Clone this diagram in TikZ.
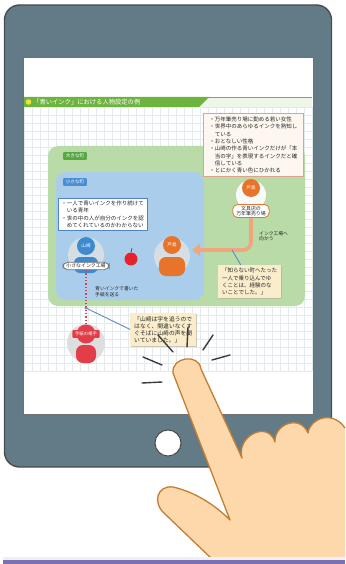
\documentclass[tikz,border=0pt]{standalone}
\usepackage{fontspec}
\newfontfamily\jp{Noto Sans CJK JP}
\usetikzlibrary{arrows.meta,calc,shadows}
\definecolor{bezel}{HTML}{637B87}
\definecolor{bezeledge}{HTML}{4A4D50}
\definecolor{gridc}{HTML}{E4EAEE}
\definecolor{titlegreen}{HTML}{6DB33F}
\definecolor{titlelight}{HTML}{EEF6E8}
\definecolor{townbig}{HTML}{B9DBA7}
\definecolor{townsmall}{HTML}{A9CDEA}
\definecolor{tagbig}{HTML}{58A745}
\definecolor{tagsmall}{HTML}{4B8ED0}
\definecolor{noteblue}{HTML}{4F84C4}
\definecolor{haloc}{HTML}{D6DEE5}
\definecolor{yamablue}{HTML}{3E8ACF}
\definecolor{toorange}{HTML}{E8742B}
\definecolor{arroworange}{HTML}{F2A47C}
\definecolor{profilefill}{HTML}{FDF7EF}
\definecolor{profileedge}{HTML}{DDA38C}
\definecolor{quotefill}{HTML}{FAEDCC}
\definecolor{quoteshadow}{HTML}{B9B2A2}
\definecolor{personred}{HTML}{E23E4A}
\definecolor{applered}{HTML}{E5232B}
\definecolor{pointerblue}{HTML}{5C8CC2}
\definecolor{tapline}{HTML}{3C3C3C}
\definecolor{skin}{HTML}{FCD8AB}
\definecolor{skinedge}{HTML}{C47E33}
\definecolor{barpurple}{HTML}{7B70B4}
\definecolor{dotyellow}{HTML}{F2E236}
\begin{document}
\begin{tikzpicture}[x=1pt,y=-1pt,
  txt/.style={font=\jp\fontsize{5.5}{7.3}\selectfont, align=left, text=black!85},
  tag/.style={font=\jp\fontsize{4.6}{5}\selectfont, text=white, inner xsep=2.6pt, inner ysep=1.7pt, rounded corners=0.8pt},
  pill/.style={draw, fill=white, rounded corners=5pt, font=\jp\fontsize{4.9}{5.6}\selectfont, inner xsep=3.5pt, inner ysep=1.5pt, line width=0.8pt, align=center, text=black!85},
  head/.style={circle, minimum size=18pt, inner sep=0pt, text=white, font=\jp\fontsize{4.6}{5}\selectfont},
  halo/.style={circle, fill=haloc, minimum size=36pt, inner sep=0pt},
  quote/.style={txt, fill=quotefill, inner xsep=4pt, inner ysep=3pt, anchor=north west,
    drop shadow={shadow xshift=1.2pt, shadow yshift=-1.2pt, fill=quoteshadow, opacity=0.7}},
  pointer/.style={pointerblue, line width=0.9pt},
  tap/.style={tapline, line width=1.4pt, line cap=round}]
\useasboundingbox (0,0) rectangle (345,564);

% tablet body, screen and home button
\draw[bezeledge, fill=bezel, line width=1.4pt, rounded corners=15pt] (4.5,5) rectangle (331.5,467);
\draw[bezeledge!80, fill=white, line width=0.6pt] (23,57) rectangle (313,414);
\node[circle, draw=bezeledge, fill=white, line width=1pt, minimum size=26pt, inner sep=0pt] (home) at (168,443) {};

% squared paper
\foreach \x in {24,32,...,312} \draw[gridc, line width=0.4pt] (\x,107) -- (\x,371);
\foreach \y in {107,115,...,371} \draw[gridc, line width=0.4pt] (24,\y) -- (312,\y);

% heading bar
\fill[titlelight] (24,97) rectangle (312,107);
\fill[titlegreen] (24,97) -- (209,97) -- (199,107) -- (24,107) -- cycle;
\draw[titlegreen, line width=1.2pt] (24,97.6) -- (312,97.6);
\fill[dotyellow] (28.5,102) circle (2.8);
\node[anchor=west, inner sep=0pt, text=white, font=\jp\fontsize{6.3}{7}\selectfont] (title) at (33,102.3) {「青いインク」における人物設定の例};

% towns
\fill[townbig, rounded corners=10pt] (48,146) rectangle (305,306);
\fill[townsmall, rounded corners=10pt] (56,172) rectangle (204,300);
\node[tag, fill=tagbig, anchor=north west] (bigtown) at (63,152) {大きな町};
\node[tag, fill=tagsmall, anchor=north west] (smalltown) at (63,178) {小さな町};

% profile of Toshima
\node[txt, draw=profileedge, line width=0.9pt, fill=profilefill, anchor=north west, inner xsep=4pt, inner ysep=3.5pt, minimum width=100pt] (profile) at (203,113)
 {・万年筆売り場に勤める若い女性\\
  ・世界中のあらゆるインクを熟知し\\
  \hphantom{・}ている\\
  ・おとなしい性格\\
  ・山崎の作る青いインクだけが「本\\
  \hphantom{・}当の字」を表現するインクだと確\\
  \hphantom{・}信している\\
  ・とにかく青い色にひかれる};

% note on Yamazaki
\node[txt, draw=noteblue, line width=0.8pt, fill=white, anchor=north west, inner xsep=3pt, inner ysep=2.5pt] (note) at (58,198)
 {・一人で青いインクを作り続けて\\
  \hphantom{・}いる青年\\
  ・世の中の人が自分のインクを認\\
  \hphantom{・}めてくれているのかわからない};

% Yamazaki
\node[halo] (yhalo) at (86,255) {};
\fill[yamablue, rounded corners=6pt] (74,273) rectangle (98,257);
\node[head, fill=yamablue] (yama) at (86,246) {山崎};
\node[pill, draw=black!55] (yfac) at (86,266) {小さなインク工場};

% apple
\node[circle, fill=applered, minimum size=13pt, inner sep=0pt] (apple) at (131,259) {};
\draw[black!70, line width=0.8pt] (apple.north) -- ++(1,-4);

% Toshima in the small town
\node[halo] (thalo) at (172,256) {};
\fill[toorange, rounded corners=7pt] (159,276) rectangle (185,257);
\node[head, fill=toorange] (toshima) at (172,245) {戸島};

% Toshima at the shop
\node[halo, fill=white!85!haloc, minimum size=30pt] (shalo) at (251,195) {};
\node[head, fill=toorange] (toshimaup) at (251,188) {戸島};
\node[pill, draw=toorange] (shop) at (251,211) {文具店の\\万年筆売り場};

% trip to the ink factory
\coordinate (arrowend) at (192,250);
\draw[arroworange, line width=3.6pt, rounded corners=8pt, -{Triangle[width=12pt,length=8pt]}] (shop.south) |- (arrowend);
\node[txt, anchor=north west, inner sep=0pt, font=\jp\fontsize{4.8}{5.8}\selectfont] (trip) at (259,231) {インク工場へ\\向かう};

\node[quote] (q1) at (218,265)
 {「知らない町へたった\\
  一人で乗り込んでゆ\\
  くことは、経験のな\\
  いことでした。」};
\coordinate (p1) at (232,250);
\draw[pointer] (p1) -- ($(q1.north west)!0.36!(q1.north east)$);

% the letter
\node[halo, fill=black!13, minimum size=38pt] (rhalo) at (86,343) {};
\fill[personred, rounded corners=7pt] (76,363) rectangle (96,345);
\node[head, fill=personred, minimum size=19pt] (rhead) at (86,334) {};
\node[tag, fill=personred, font=\jp\fontsize{4.4}{5}\selectfont] (rlabel) at (86,334) {手紙の相手};
\draw[personred, dotted, line width=1.3pt] (yfac.south) -- (rhead.north);
\node[txt, anchor=north west, inner sep=0pt, font=\jp\fontsize{4.8}{5.8}\selectfont] (send) at (95,286) {青いインクで書いた\\手紙を送る};

\node[quote, font=\jp\fontsize{5.8}{7}\selectfont] (q2) at (130,313)
 {「山崎は字を追うので\\
  はなく、間違いなくす\\
  ぐそばに山崎の声を聞\\
  いていました。」};
\coordinate (lt) at (86,308);
\draw[pointer] (lt) -- (q2.west);
\fill[pointerblue] (lt) circle (1.6);

% tap marks
\draw[tap] (158,335) -- (173,352);
\draw[tap] (188,327) -- (187,347);
\draw[tap] (213,335) -- (203,350);
\draw[tap] (230,355) -- (212,360);
\draw[tap] (143,357) -- (162,365);
\draw[tap] (142,383) -- (162,382);

% hand
\fill[skin] (213,560) -- (165,514) .. controls (152,503) and (157,485) .. (173,487)
  .. controls (195,492) and (215,505) .. (230,520) -- (173,373)
  .. controls (171,357) and (199,353) .. (201,369) -- (242,458)
  .. controls (236,436) and (268,420) .. (275,442)
  .. controls (274,424) and (300,414) .. (308,433)
  .. controls (310,418) and (333,410) .. (345,428) -- (345,560) -- cycle;
\draw[skinedge, line width=1.3pt, line join=round] (213,560) -- (165,514) .. controls (152,503) and (157,485) .. (173,487)
  .. controls (195,492) and (215,505) .. (230,520) -- (173,373)
  .. controls (171,357) and (199,353) .. (201,369) -- (242,458)
  .. controls (236,436) and (268,420) .. (275,442)
  .. controls (274,424) and (300,414) .. (308,433)
  .. controls (310,418) and (333,410) .. (345,428);

% bottom strip
\fill[black!6] (3,557) rectangle (345,560);
\fill[barpurple] (3,560) rectangle (345,564);
\end{tikzpicture}
\end{document}
